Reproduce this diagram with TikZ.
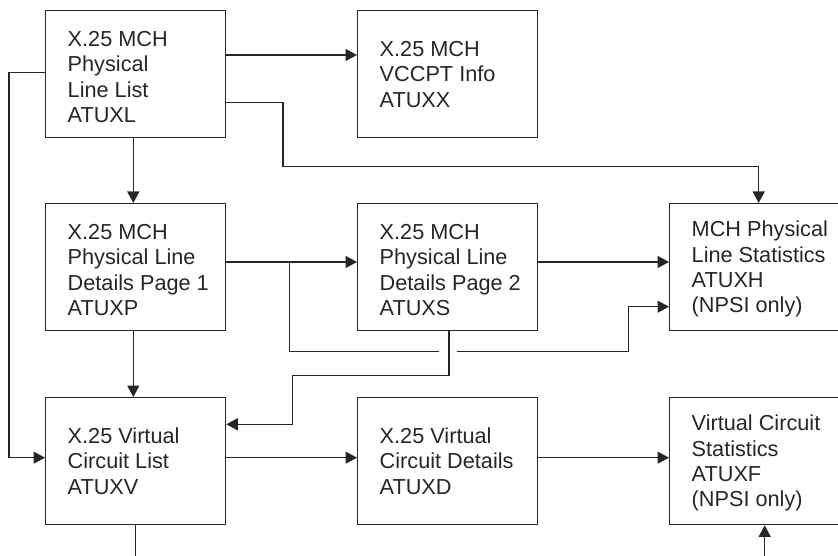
\documentclass[tikz,border=0pt]{standalone}
\usepackage{fontspec}
\setmainfont{Liberation Sans}
\usetikzlibrary{arrows.meta}
\definecolor{ink}{HTML}{262626}
\tikzset{
 box/.style={draw=ink, line width=1.3pt, minimum width=180pt, minimum height=127pt, inner sep=0pt, anchor=north west},
 txt/.style={text=ink, font=\fontsize{21.7}{25.4}\selectfont, align=left, inner sep=0pt, anchor=west},
 link/.style={draw=ink, line width=1.3pt},
 arr/.style={link, -{Triangle[length=11.5pt,width=12pt]}},
}
\begin{document}
\begin{tikzpicture}[x=1pt,y=-1pt]
\useasboundingbox (0,0) rectangle (838,556);
% boxes
\node[box] (L) at (45,10) {};
\node[box] (X) at (357,10) {};
\node[box] (P) at (45,203) {};
\node[box] (S) at (357,203) {};
\node[box] (H) at (669,203) {};
\node[box] (V) at (45,397) {};
\node[box] (D) at (357,397) {};
\node[box] (F) at (669,397) {};
% texts
\node[txt] (Lt) at ([xshift=22.5pt,yshift=-3pt]L.west) {X.25 MCH\\Physical\\Line List\\ATUXL};
\node[txt] (Xt) at ([xshift=22.5pt]X.west) {X.25 MCH\\VCCPT Info\\ATUXX};
\node[txt] (Pt) at ([xshift=22.5pt,yshift=-3pt]P.west) {X.25 MCH\\Physical Line\\Details Page 1\\ATUXP};
\node[txt] (St) at ([xshift=22.5pt,yshift=-3pt]S.west) {X.25 MCH\\Physical Line\\Details Page 2\\ATUXS};
\node[txt] (Ht) at ([xshift=22.5pt,yshift=-2pt]H.west) {MCH Physical\\Line Statistics\\ATUXH\\(NPSI only)};
\node[txt] (Vt) at ([xshift=22.5pt]V.west) {X.25 Virtual\\Circuit List\\ATUXV};
\node[txt] (Dt) at ([xshift=22.5pt]D.west) {X.25 Virtual\\Circuit Details\\ATUXD};
\node[txt] (Ft) at ([xshift=22.5pt,yshift=-2pt]F.west) {Virtual Circuit\\Statistics\\ATUXF\\(NPSI only)};
% helper coordinates
\coordinate (br) at (289.3,262);
\coordinate (hopL) at (439.3,351.7);
\coordinate (hopR) at (456.7,351.7);
\coordinate (vEnd) at (135.3,560);
\coordinate (fStart) at (764.7,560);
% connectors
\draw[arr] (L.east |- 0,55) -- (X.west |- 0,55);
\draw[arr] (L.east |- 0,102.7) -- (283,102.7) -- (283,166.7) -- (758.7,166.7) -- (H.north -| 758.7,0);
\draw[arr] (L.south -| 133.3,0) -- (P.north -| 133.3,0);
\draw[arr] (L.west |- 0,72.7) -- (9,72.7) -- (9,457.7) -- (V.west |- 0,457.7);
\draw[arr] (P.east |- 0,262) -- (S.west |- 0,262);
\draw[link] (br) -- (289.3,351.7) -- (hopL);
\draw[arr] (hopR) -- (628.3,351.7) -- (628.3,306.7) -- (H.west |- 0,306.7);
\draw[arr] (S.east |- 0,262) -- (H.west |- 0,262);
\draw[arr] (S.south -| 449,0) -- (449,375.7) -- (292.7,375.7) -- (292.7,424.3) -- (V.east |- 0,424.3);
\draw[arr] (P.south -| 133.3,0) -- (V.north -| 133.3,0);
\draw[arr] (V.east |- 0,457.7) -- (D.west |- 0,457.7);
\draw[arr] (D.east |- 0,457.7) -- (F.west |- 0,457.7);
\draw[link] (V.south -| vEnd) -- (vEnd);
\draw[arr] (fStart) -- (F.south -| fStart);
\end{tikzpicture}
\end{document}
